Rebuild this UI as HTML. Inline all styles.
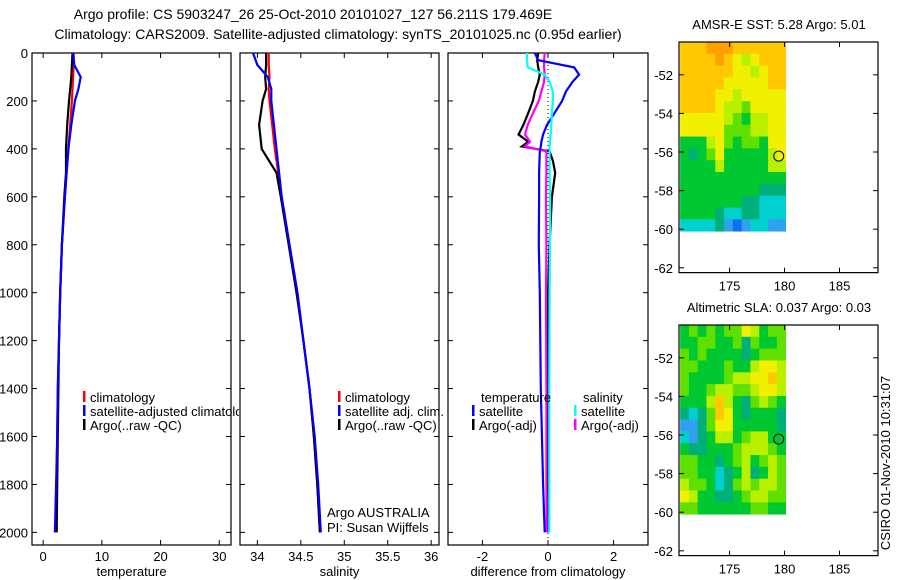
<!DOCTYPE html>
<html><head><meta charset="utf-8"><style>
html,body{margin:0;padding:0;background:#fff;}
svg{display:block;font-family:"Liberation Sans",sans-serif;}
</style></head><body>
<svg id="fig" width="900" height="580" viewBox="0 0 900 580">
<defs><clipPath id="legclip"><rect x="0" y="0" width="239" height="580"/></clipPath></defs>
<text x="313" y="19" font-size="14" text-anchor="middle">Argo profile: CS 5903247_26 25-Oct-2010 20101027_127 56.211S 179.469E</text>
<text x="338" y="39" font-size="14" text-anchor="middle">Climatology: CARS2009. Satellite-adjusted climatology: synTS_20101025.nc (0.95d earlier)</text>
<text transform="translate(890,463) rotate(-90)" font-size="13" text-anchor="middle">CSIRO 01-Nov-2010 10:31:07</text>
</svg>
<script>
// ---- profile data ----
const depthT = [0,50,100,150,200,300,400,500,600,800,1000,1200,1400,1600,1800,2000];
const tempClim = [5.2,5.2,5.1,5.0,4.9,4.6,4.3,4.0,3.7,3.2,2.9,2.7,2.5,2.4,2.3,2.2];
const tempSatAdj = [5.1,5.3,6.4,6.0,5.4,4.8,4.3,4.0,3.7,3.2,2.9,2.7,2.5,2.4,2.2,2.0];
const tempArgo = [5.0,4.9,4.8,4.6,4.4,4.1,3.9,3.9,3.6,3.2,2.9,2.7,2.6,2.5,2.4,2.3];
const salClim = [34.13,34.13,34.14,34.13,34.14,34.17,34.20,34.24,34.28,34.37,34.46,34.53,34.60,34.65,34.69,34.72];
const salSatAdj = [33.95,34.0,34.12,34.16,34.16,34.19,34.22,34.25,34.28,34.37,34.46,34.53,34.60,34.66,34.70,34.73];
const salArgo = [34.10,34.10,34.09,34.10,34.06,34.02,34.05,34.22,34.27,34.36,34.45,34.53,34.60,34.65,34.69,34.72];
const depthD = [0,30,60,90,120,160,200,250,300,340,370,390,410,450,500,600,800,1000,1400,1800,2000];
const diffTempSat = [-0.4,-0.3,0.8,0.95,0.75,0.55,0.43,0.2,-0.03,-0.15,-0.2,-0.22,-0.25,-0.26,-0.27,-0.27,-0.28,-0.25,-0.22,-0.15,-0.1];
const diffSalSat = [-0.64,-0.64,-0.62,-0.1,0.05,0.15,0.15,0.12,0.1,0.08,0.06,0.05,0.05,0.05,0.05,0.06,0.06,0.05,0.04,0.04,0.04];
const diffTempArgo = [-0.3,-0.33,-0.3,-0.25,-0.3,-0.4,-0.46,-0.6,-0.75,-0.9,-0.6,-0.8,0.05,0.15,0.22,0.12,0.05,0.0,0.0,0.0,0.0];
const diffSalArgo = [-0.1,-0.12,-0.12,-0.1,-0.12,-0.2,-0.28,-0.45,-0.62,-0.7,-0.55,-0.7,-0.05,-0.05,-0.05,-0.06,-0.05,-0.06,-0.05,-0.05,-0.04];
const depthTicks = [0,200,400,600,800,1000,1200,1400,1600,1800,2000];
const tempTicks = [0,10,20,30];
const salTicks = [34,34.5,35,35.5,36];
const diffTicks = [-2,0,2];
// ---- map data (palette index 0..9) ----
const sstGrid = [
[8,8,8,9,9,9,8,8,8,8,8,8],[8,8,8,8,9,8,7,6,7,8,8,8],[8,8,8,8,8,8,7,7,6,7,8,8],[8,8,8,8,8,7,7,7,7,7,8,8],
[8,8,8,8,7,7,6,7,7,7,7,7],[8,8,8,8,7,6,6,5,7,7,7,7],[7,7,7,7,7,6,5,4,6,6,7,7],[7,7,7,7,7,5,5,5,6,6,7,7],
[4,4,4,6,7,5,4,5,5,4,7,7],[4,3,4,5,7,4,4,4,4,4,6,7],[4,4,4,4,6,4,4,4,4,4,6,6],[4,4,4,4,4,4,4,4,4,4,4,4],
[4,4,4,4,4,4,4,4,4,3,3,3],[4,4,4,4,4,4,4,3,3,2,2,2],[4,4,4,4,3,2,2,3,3,2,2,2],[2,2,2,2,3,1,0,1,2,2,1,1]];
const slaGrid = [
[4,5,4,5,4,5,5,7,6,4,5,5],[4,4,5,5,4,4,5,3,5,4,4,5],[5,4,5,4,4,4,4,3,4,5,5,5],[5,5,4,4,4,5,4,4,6,7,7,6],
[5,4,4,4,4,5,6,6,7,7,8,6],[5,4,4,5,6,6,5,5,6,7,7,6],[4,4,4,6,8,6,4,3,5,6,5,4],[3,2,3,5,8,7,4,3,4,4,4,3],
[1,1,3,5,7,7,4,4,4,4,4,3],[2,1,3,4,6,6,4,5,6,6,4,4],[4,3,3,4,4,4,5,6,6,6,5,4],[5,5,4,4,3,4,5,6,4,5,6,5],
[5,5,4,4,2,3,4,6,3,4,6,5],[6,5,5,4,2,3,5,6,5,6,6,5],[7,6,4,4,3,3,4,5,6,6,5,5],[5,5,4,4,4,4,4,4,5,5,4,4]];
const lonTicks = [175,180,185];
const latTicks = [-52,-54,-56,-58,-60,-62];
const argoLon = 179.469, argoLat = -56.211;

const svg = document.getElementById('fig');
const NS = 'http://www.w3.org/2000/svg';
function mk(tag, attrs, parent){const e=document.createElementNS(NS,tag);for(const k in attrs)e.setAttribute(k,attrs[k]);(parent||svg).appendChild(e);return e;}
function txt(x,y,s,size,anchor,parent){const t=mk('text',{x:x,y:y,'font-size':size,'text-anchor':anchor||'start'},parent);t.textContent=s;return t;}

const yD = d => 53 + d*0.2397;
const panels = [
 {x0:32,x1:231,v0:-1.9,v1:32,ticks:tempTicks,label:'temperature',name:'temperature-panel'},
 {x0:240,x1:439,v0:33.80,v1:36.09,ticks:salTicks,label:'salinity',name:'salinity-panel'},
 {x0:448,x1:648,v0:-3.05,v1:3.05,ticks:diffTicks,label:'difference from climatology',name:'difference-panel'}];
panels.forEach((p,i)=>{
 p.sx = v => p.x0 + (v-p.v0)/(p.v1-p.v0)*(p.x1-p.x0);
 const g = mk('g',{});
 
 
 p.g = g;
 const b = mk('rect',{x:p.x0,y:53,width:p.x1-p.x0,height:492,fill:'none',stroke:'#000','stroke-width':1.2},g);
 
 
 depthTicks.forEach(d=>{
  mk('line',{x1:p.x0,x2:p.x0+5,y1:yD(d),y2:yD(d),stroke:'#000'},g);
  mk('line',{x1:p.x1-5,x2:p.x1,y1:yD(d),y2:yD(d),stroke:'#000'},g);
  if(i===0){const t=txt(28,yD(d)+5,String(d),13,'end',g);
   
   }
 });
 p.ticks.forEach(v=>{
  const x=p.sx(v);
  mk('line',{x1:x,x2:x,y1:545,y2:540,stroke:'#000'},g);
  mk('line',{x1:x,x2:x,y1:53,y2:58,stroke:'#000'},g);
  const t=txt(x,561,String(v),13,'middle',g);
  
  
 });
 const at=txt((p.x0+p.x1)/2,576,p.label,13,'middle',g);
 
 
});
function line(p,depths,vals,color,name){
 const pts=depths.map((d,k)=>p.sx(vals[k]).toFixed(1)+','+yD(d).toFixed(1)).join(' ');
 const l=mk('polyline',{points:pts,fill:'none',stroke:color,'stroke-width':2.2,'stroke-linejoin':'miter'},p.g);
 
 
}
const zl=mk('line',{x1:panels[2].sx(0),x2:panels[2].sx(0),y1:53,y2:545,stroke:'#000','stroke-dasharray':'1,3'},panels[2].g);


line(panels[0],depthT,tempClim,'#ff0000','temp-climatology-line');
line(panels[0],depthT,tempArgo,'#000000','temp-argo-line');
line(panels[0],depthT,tempSatAdj,'#0000ff','temp-satellite-line');
line(panels[1],depthT,salClim,'#ff0000','sal-climatology-line');
line(panels[1],depthT,salArgo,'#000000','sal-argo-line');
line(panels[1],depthT,salSatAdj,'#0000ff','sal-satellite-line');
line(panels[2],depthD,diffTempArgo,'#000000','diff-temp-argo-line');
line(panels[2],depthD,diffSalArgo,'#ff00ff','diff-sal-argo-line');
line(panels[2],depthD,diffTempSat,'#0000ff','diff-temp-satellite-line');
line(panels[2],depthD,diffSalSat,'#00ffff','diff-sal-satellite-line');
function legend(x,y,color,label,name,parent){
 const g=mk('g',{},parent);
 
 
 mk('rect',{x:x,y:y-11,width:2.5,height:11,fill:color},g);
 txt(x+7,y,label,13,'start',g);
 return g;
}
const lg1=mk('g',{'clip-path':'url(#legclip)'});


legend(83,402,'#ff0000','climatology','legend-climatology',lg1);
legend(83,416,'#0000ff','satellite-adjusted climatology','legend-satellite-adjusted',lg1);
legend(83,430,'#000000','Argo(..raw -QC)','legend-argo',lg1);
legend(338,402,'#ff0000','climatology','legend-sal-climatology',svg);
legend(338,416,'#0000ff','satellite adj. clim.','legend-sal-satellite',svg);
legend(338,430,'#000000','Argo(..raw -QC)','legend-sal-argo',svg);
const a1=txt(327,517,'Argo AUSTRALIA',13);  
const a2=txt(327,532,'PI: Susan Wijffels',13);  
const lt=txt(481,402,'temperature',13);  
const ls=txt(583,402,'salinity',13);  
legend(472,416,'#0000ff','satellite','legend-diff-temp-satellite',svg);
legend(472,430,'#000000','Argo(-adj)','legend-diff-temp-argo',svg);
legend(574,416,'#00ffff','satellite','legend-diff-sal-satellite',svg);
legend(574,430,'#ff00ff','Argo(-adj)','legend-diff-sal-argo',svg);
const palette=['#1070f0','#30a0f0','#00d0d0','#00b078','#00c830','#60e000','#b8f000','#f0f000','#ffc800','#ffa000'];
function drawMap(top,grid,title,name){
 const L0=170.4,L1=188.5,lat0=-50.3;
 const sx=l=>679+(l-L0)/(L1-L0)*199;
 const sy=la=>top+(lat0-la)*19.3;
 const g=mk('g',{});
 
 
 const rows=grid.length, cols=grid[0].length;
 const lonA=170.5, lonB=180.1, latB=-60.1;
 const cw=(lonB-lonA)/cols, ch=(lat0-latB)/rows;
 grid.forEach((r,ri)=>r.forEach((v,ci)=>{
  const x=sx(lonA+ci*cw), y=sy(lat0-ri*ch);
  const c=mk('rect',{x:x.toFixed(2),y:y.toFixed(2),width:(sx(lonA+(ci+1)*cw)-x+0.4).toFixed(2),height:(sy(lat0-(ri+1)*ch)-y+0.4).toFixed(2),fill:palette[v]},g);
  
  
 }));
 const bottom=sy(-62.25);
 mk('rect',{x:679,y:top,width:199,height:bottom-top,fill:'none',stroke:'#000','stroke-width':1.2},g);
 latTicks.forEach(la=>{
  const y=sy(la);
  mk('line',{x1:679,x2:684,y1:y,y2:y,stroke:'#000'},g);
  mk('line',{x1:873,x2:878,y1:y,y2:y,stroke:'#000'},g);
  const t=txt(673,y+5,String(la),13,'end',g);
  
  
 });
 lonTicks.forEach(lo=>{
  const x=sx(lo);
  mk('line',{x1:x,x2:x,y1:bottom,y2:bottom-5,stroke:'#000'},g);
  mk('line',{x1:x,x2:x,y1:top,y2:top+5,stroke:'#000'},g);
  const t=txt(x,bottom+18,String(lo),13,'middle',g);
  
  
 });
 const c=mk('circle',{cx:sx(argoLon),cy:sy(argoLat),r:5,fill:'none',stroke:'#000','stroke-width':1},g);
 
 
 const t=txt(779,top-13,title,13,'middle',g);
 
 
}
drawMap(42,sstGrid,'AMSR-E SST: 5.28 Argo: 5.01','sst-map');
drawMap(325,slaGrid,'Altimetric SLA: 0.037 Argo: 0.03','sla-map');
</script>
</body></html>
